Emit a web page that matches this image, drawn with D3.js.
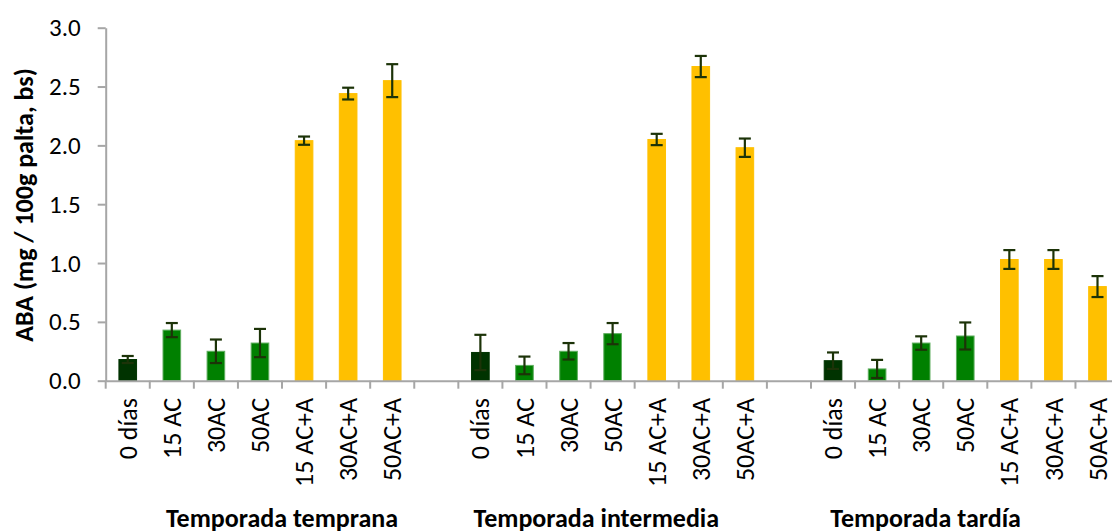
<!DOCTYPE html>
<html><head><meta charset="utf-8">
<script src="https://cdn.jsdelivr.net/npm/d3@7"></script>
<style>
html,body{margin:0;padding:0;background:#fff;}
svg{display:block;font-family:Carlito,Calibri,Lato,"Open Sans",sans-serif;}
</style></head><body>
<svg id="c" width="1112" height="532"></svg>
<script>
const categories = ["0 días","15 AC","30AC","50AC","15 AC+A","30AC+A","50AC+A"];
const seasons = ["Temporada temprana","Temporada intermedia","Temporada tardía"];
const valuesTemprana   = [0.18,0.43,0.25,0.32,2.04,2.44,2.55];
const valuesIntermedia = [0.24,0.13,0.25,0.40,2.05,2.67,1.98];
const valuesTardia     = [0.17,0.10,0.32,0.38,1.03,1.03,0.80];
const errTemprana   = [0.03,0.06,0.10,0.12,0.035,0.05,0.14];
const errIntermedia = [0.15,0.075,0.07,0.09,0.048,0.09,0.078];
const errTardia     = [0.07,0.077,0.057,0.115,0.08,0.08,0.089];
const catType = ["control","ac","ac","ac","aca","aca","aca"];
const yTicks = [0,0.5,1.0,1.5,2.0,2.5,3.0];

const values = [valuesTemprana, valuesIntermedia, valuesTardia];
const errs = [errTemprana, errIntermedia, errTardia];
const fillFor = {control:"#003300", ac:"#008000", aca:"#FFC000"};
const strokeFor = {control:"#003300", ac:"#5fae5f", aca:"#FFC000"};

// build slots: 7 per season, one empty gap slot between seasons
const slots = [];
const rows = [];
seasons.forEach((s,si)=>{
  categories.forEach((c,ci)=>{
    const key = s+"|"+c;
    slots.push(key);
    rows.push({key, season:s, cat:c, v:values[si][ci], e:errs[si][ci], type:catType[ci]});
  });
  if(si<seasons.length-1) slots.push("gap"+si);
});

const svg = d3.select("#c");
const x0 = 105.7, slotW = 44.08;
const x = d3.scaleBand().domain(slots).range([x0, x0+slotW*slots.length]).padding(0);
const y = d3.scaleLinear().domain([0,3]).range([380.7, 27.7]);
const axisColor = "#a6a6a6";

// bars
const bw = x.bandwidth()*0.4;
svg.append("g").selectAll("rect").data(rows).join("rect")
  .attr("x", d=>x(d.key)+x.bandwidth()/2-bw/2)
  .attr("y", d=>y(d.v))
  .attr("width", bw)
  .attr("height", d=>y(0)-y(d.v))
  .attr("fill", d=>fillFor[d.type])
  .attr("stroke", d=>strokeFor[d.type])
  .attr("stroke-width", 1);

// error bars
const eg = svg.append("g").attr("stroke","#1c3308").attr("stroke-width",2.2);
rows.forEach(d=>{
  const cx = x(d.key)+x.bandwidth()/2;
  eg.append("line").attr("x1",cx).attr("x2",cx).attr("y1",y(d.v+d.e)).attr("y2",y(d.v-d.e));
  eg.append("line").attr("x1",cx-6).attr("x2",cx+6).attr("y1",y(d.v+d.e)).attr("y2",y(d.v+d.e));
  eg.append("line").attr("x1",cx-6).attr("x2",cx+6).attr("y1",y(d.v-d.e)).attr("y2",y(d.v-d.e));
});

// y axis
const ya = svg.append("g").attr("transform",`translate(${x0},0)`)
  .call(d3.axisLeft(y).tickValues(yTicks).tickFormat(d3.format(".1f")).tickSize(8).tickSizeOuter(0).tickPadding(17));
ya.select(".domain").attr("stroke",axisColor).attr("stroke-width",2);
ya.selectAll(".tick line").attr("stroke",axisColor).attr("stroke-width",2);
ya.selectAll(".tick text").attr("font-size",25).attr("fill","#000").attr("font-family","Carlito,Calibri,Lato,sans-serif");

// x axis
const xa = svg.append("g").attr("transform",`translate(0,${y(0)})`)
  .call(d3.axisBottom(x).tickSize(0).tickFormat(""));
xa.select(".domain").attr("stroke",axisColor).attr("stroke-width",2);
const edges = slots.map(s=>x(s)).concat([x(slots[slots.length-1])+x.bandwidth()]);
xa.selectAll("line.edge").data(edges).join("line").attr("class","edge")
  .attr("x1",d=>d).attr("x2",d=>d).attr("y1",0).attr("y2",8)
  .attr("stroke",axisColor).attr("stroke-width",2);

// category labels
svg.append("g").selectAll("text").data(rows).join("text")
  .attr("transform", d=>`translate(${x(d.key)+x.bandwidth()/2},398) rotate(-90)`)
  .attr("text-anchor","end").attr("dy","0.35em")
  .attr("font-size",26).attr("fill","#000")
  .text(d=>d.cat);

// season labels
const seasonOffset = [4.0, 11.13, 18.6];
svg.append("g").selectAll("text").data(seasons).join("text")
  .attr("x",(d,i)=>x0+slotW*seasonOffset[i])
  .attr("y",527)
  .attr("text-anchor","middle").attr("font-weight","bold")
  .attr("font-size",26).attr("fill","#000")
  .text(d=>d);

// y title
svg.append("text")
  .attr("transform","translate(33,205) rotate(-90)")
  .attr("text-anchor","middle").attr("font-weight","bold")
  .attr("font-size",26).attr("fill","#000")
  .text("ABA (mg / 100g palta, bs)");
</script></body></html>
